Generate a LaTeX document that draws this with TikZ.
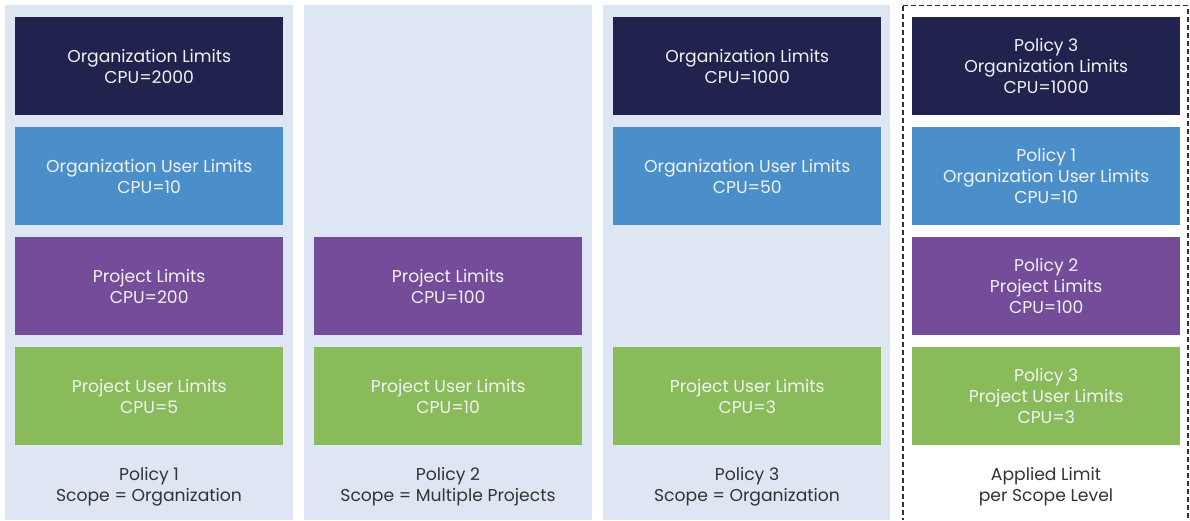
\documentclass[tikz,border=0pt]{standalone}
\usepackage{fontspec}
\setmainfont{Poppins}
\definecolor{navy}{HTML}{21234F}
\definecolor{lblue}{HTML}{4A8FC9}
\definecolor{purp}{HTML}{744C9A}
\definecolor{grn}{HTML}{8ABB5A}
\definecolor{bgc}{HTML}{DFE6F3}
\definecolor{txtw}{HTML}{F2F2F2}
\definecolor{txtd}{HTML}{333333}
\tikzset{
  limbox/.style={minimum width=268pt,minimum height=98pt,inner sep=0pt,text=txtw,align=center,font=\fontsize{17.2}{21.3}\selectfont,anchor=north west},
  colbg/.style={fill=bgc,draw=none},
  caption/.style={text=txtd,align=center,font=\fontsize{17.2}{21.3}\selectfont}
}
\begin{document}
\begin{tikzpicture}[x=1pt,y=-1pt]
\useasboundingbox (0,0) rectangle (1190,520);
\fill[white] (0,0) rectangle (1190,520);
% column backgrounds
\fill[colbg] (5,5) rectangle (293,520);
\fill[colbg] (304,5) rectangle (592,520);
\fill[colbg] (603,5) rectangle (890,520);
\draw[txtd,line width=1.1pt,dash pattern=on 5pt off 3pt] (903,5.5) -- (1188,5.5) -- (1188,520) (903,5.5) -- (903,520);
% column 1
\node[limbox,fill=navy] (a1) at (15,17) {Organization Limits\\CPU=2000};
\node[limbox,fill=lblue] (a2) at (15,127) {Organization User Limits\\CPU=10};
\node[limbox,fill=purp] (a3) at (15,237) {Project Limits\\CPU=200};
\node[limbox,fill=grn] (a4) at (15,347) {Project User Limits\\CPU=5};
\node[caption] (c1) at (149,486.5) {Policy 1\\Scope = Organization};
% column 2
\node[limbox,fill=purp] (b3) at (314,237) {Project Limits\\CPU=100};
\node[limbox,fill=grn] (b4) at (314,347) {Project User Limits\\CPU=10};
\node[caption] (c2) at (448,486.5) {Policy 2\\Scope = Multiple Projects};
% column 3
\node[limbox,fill=navy] (d1) at (613,17) {Organization Limits\\CPU=1000};
\node[limbox,fill=lblue] (d2) at (613,127) {Organization User Limits\\CPU=50};
\node[limbox,fill=grn] (d4) at (613,347) {Project User Limits\\CPU=3};
\node[caption] (c3) at (747,486.5) {Policy 3\\Scope = Organization};
% column 4
\node[limbox,fill=navy] (e1) at (912,17) {Policy 3\\Organization Limits\\CPU=1000};
\node[limbox,fill=lblue] (e2) at (912,127) {Policy 1\\Organization User Limits\\CPU=10};
\node[limbox,fill=purp] (e3) at (912,237) {Policy 2\\Project Limits\\CPU=100};
\node[limbox,fill=grn] (e4) at (912,347) {Policy 3\\Project User Limits\\CPU=3};
\node[caption] (c4) at (1046,486.5) {Applied Limit\\per Scope Level};
\end{tikzpicture}
\end{document}
